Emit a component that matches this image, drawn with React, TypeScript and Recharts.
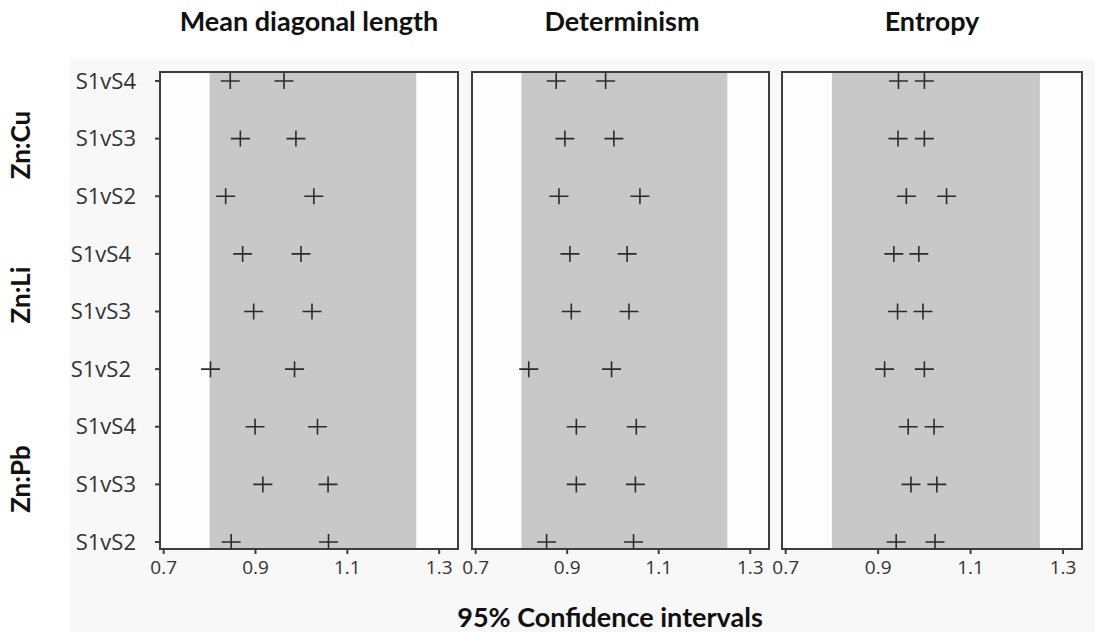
import React from 'react';
import { ScatterChart, Scatter, XAxis, YAxis, ReferenceArea, CartesianGrid } from 'recharts';

const groups = ['Zn:Cu', 'Zn:Li', 'Zn:Pb'];
const rowLabels = ['S1vS4', 'S1vS3', 'S1vS2', 'S1vS4', 'S1vS3', 'S1vS2', 'S1vS4', 'S1vS3', 'S1vS2'];
const panelTitles = ['Mean diagonal length', 'Determinism', 'Entropy'];
const xTicks = [0.7, 0.9, 1.1, 1.3];
const bandLow = 0.8;
const bandHigh = 1.25;

const mdlLower = [0.845, 0.867, 0.835, 0.872, 0.896, 0.802, 0.899, 0.916, 0.847];
const mdlUpper = [0.962, 0.988, 1.027, 0.999, 1.023, 0.985, 1.035, 1.058, 1.059];
const detLower = [0.876, 0.895, 0.882, 0.906, 0.909, 0.816, 0.92, 0.92, 0.855];
const detUpper = [0.984, 1.002, 1.059, 1.031, 1.035, 0.997, 1.051, 1.049, 1.045];
const entLower = [0.944, 0.943, 0.961, 0.934, 0.942, 0.914, 0.965, 0.971, 0.939];
const entUpper = [1.0, 1.0, 1.048, 0.988, 0.997, 1.0, 1.021, 1.027, 1.023];

const X_DOMAIN = [0.692, 1.341];
const Y_DOMAIN = [-0.121, 8.156];
const FRAME = '#3d3d3d';
const TXT = '#333';
const tickFont = "'Open Sans', sans-serif";
const boldFont = "Lato, sans-serif";

// rows go top to bottom, so the first row gets the largest y
const toPoints = (vals: number[]) => vals.map((v, i) => ({ x: v, y: rowLabels.length - 1 - i }));

const Plus = (props: any) => {
  const { cx, cy } = props;
  if (cx == null || cy == null) return null;
  return (
    <path
      d={`M${cx - 9.5},${cy} h19 M${cx},${cy - 8} v16`}
      stroke="#2b2b2b"
      strokeWidth={1.6}
      fill="none"
    />
  );
};

const YTick = (props: any) => {
  const { x, y, payload } = props;
  const idx = rowLabels.length - 1 - payload.value;
  // middle group labels sit a little further left in the original
  const shift = idx >= 3 && idx <= 5 ? 5 : 0;
  return (
    <text x={x - shift} y={y} dy="0.35em" textAnchor="end" fontSize={22} fontFamily={tickFont} fill={TXT}>
      {rowLabels[idx]}
    </text>
  );
};

interface PanelProps {
  lower: number[];
  upper: number[];
  left: number;
  width: number;
  showY: boolean;
  margin: { top: number; right: number; bottom: number; left: number };
}

const Panel: React.FC<PanelProps> = ({ lower, upper, left, width, showY, margin }) => (
  <div style={{ position: 'absolute', left, top: 0 }}>
    <ScatterChart width={width} height={632} margin={margin}>
      <CartesianGrid horizontal={false} vertical={false} fill="#fdfdfd" />
      <XAxis
        type="number"
        dataKey="x"
        domain={X_DOMAIN}
        ticks={xTicks}
        allowDataOverflow
        height={40}
        tickSize={5}
        tickMargin={7}
        axisLine={{ stroke: FRAME, strokeWidth: 2 }}
        tickLine={{ stroke: FRAME, strokeWidth: 2 }}
        tick={{ fontSize: 19, fontFamily: tickFont, fill: TXT }}
        tickFormatter={(v: number) => v.toFixed(1)}
      />
      <YAxis
        type="number"
        dataKey="y"
        domain={Y_DOMAIN}
        ticks={[0, 1, 2, 3, 4, 5, 6, 7, 8]}
        allowDataOverflow
        hide={!showY}
        width={showY ? 160 : 0}
        tickSize={5}
        tickMargin={19}
        axisLine={{ stroke: FRAME, strokeWidth: 2 }}
        tickLine={{ stroke: FRAME, strokeWidth: 2 }}
        tick={<YTick />}
      />
      <ReferenceArea x1={bandLow} x2={bandHigh} fill="#c8c8c8" fillOpacity={1} stroke="none" />
      <ReferenceArea
        x1={X_DOMAIN[0]}
        x2={X_DOMAIN[1]}
        y1={Y_DOMAIN[0]}
        y2={Y_DOMAIN[1]}
        fill="none"
        stroke={FRAME}
        strokeWidth={2}
      />
      <Scatter data={toPoints(lower)} shape={<Plus />} isAnimationActive={false} />
      <Scatter data={toPoints(upper)} shape={<Plus />} isAnimationActive={false} />
    </ScatterChart>
  </div>
);

export default function App() {
  return (
    <div
      style={{
        position: 'absolute',
        left: 0,
        top: 0,
        width: 1095,
        height: 632,
        background: '#ffffff',
        overflow: 'hidden',
      }}
    >
      <div style={{ position: 'absolute', left: 70, top: 59, width: 1025, height: 573, background: '#f8f8f8' }} />
      <Panel lower={mdlLower} upper={mdlUpper} left={0} width={470} showY margin={{ top: 72, right: 12, bottom: 43, left: 0 }} />
      <Panel lower={detLower} upper={detUpper} left={462} width={320} showY={false} margin={{ top: 72, right: 13, bottom: 43, left: 10 }} />
      <Panel lower={entLower} upper={entUpper} left={772} width={323} showY={false} margin={{ top: 72, right: 13, bottom: 43, left: 10 }} />
      <svg width={1095} height={632} style={{ position: 'absolute', left: 0, top: 0, pointerEvents: 'none' }}>
        {panelTitles.map((t, i) => (
          <text
            key={t}
            x={[309, 622, 932][i]}
            y={22}
            dy="0.35em"
            textAnchor="middle"
            fontSize={27}
            fontWeight={700}
            fontFamily={boldFont}
            fill="#111"
          >
            {t}
          </text>
        ))}
        {groups.map((g, i) => (
          <text
            key={g}
            transform={`translate(21, ${[145, 295, 479][i]}) rotate(-90)`}
            dy="0.35em"
            textAnchor="middle"
            fontSize={26}
            fontWeight={700}
            fontFamily={boldFont}
            fill="#111"
          >
            {g}
          </text>
        ))}
        <text x={610} y={618} dy="0.35em" textAnchor="middle" fontSize={27} fontWeight={700} fontFamily={boldFont} fill="#111">
          95% Confidence intervals
        </text>
      </svg>
    </div>
  );
}
